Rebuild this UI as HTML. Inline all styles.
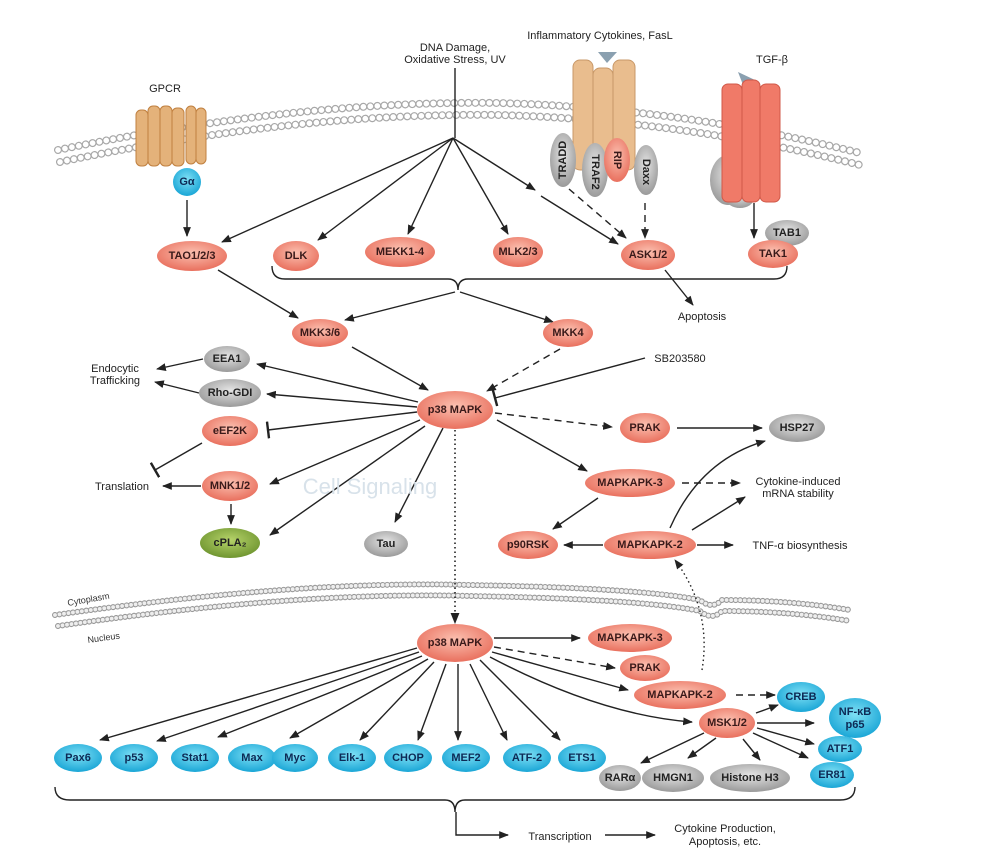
<!DOCTYPE html>
<html><head><meta charset="utf-8"><style>
html,body{margin:0;padding:0;background:#fff}
svg{display:block}
text{font-family:"Liberation Sans",sans-serif}
.n{font-size:11px;font-weight:bold;fill:#3a1a1a;text-anchor:middle;dominant-baseline:central}
.b{font-size:11px;font-weight:bold;fill:#0d2a55;text-anchor:middle;dominant-baseline:central}
.g{font-size:11px;font-weight:bold;fill:#222;text-anchor:middle;dominant-baseline:central}
.t{font-size:11px;fill:#222;text-anchor:middle}
.l{stroke:#222;stroke-width:1.4;fill:none}
.d{stroke:#222;stroke-width:1.4;fill:none;stroke-dasharray:7,5}
.m1{fill:none;stroke:#a8a8a8;stroke-width:8;stroke-linecap:round;stroke-dasharray:0.01,7}
.m2{fill:none;stroke:#fff;stroke-width:5.6;stroke-linecap:round;stroke-dasharray:0.01,7}
.n1{fill:none;stroke:#999;stroke-width:6;stroke-linecap:round;stroke-dasharray:0.01,4.5}
.n2{fill:none;stroke:#eee;stroke-width:3.8;stroke-linecap:round;stroke-dasharray:0.01,4.5}
</style></head><body>
<svg width="1000" height="858" viewBox="0 0 1000 858" xmlns="http://www.w3.org/2000/svg">
<defs>
<radialGradient id="r" cx="50%" cy="40%" r="60%"><stop offset="0" stop-color="#fbc0b0"/><stop offset="1" stop-color="#e9705e"/></radialGradient>
<radialGradient id="bl" cx="50%" cy="40%" r="60%"><stop offset="0" stop-color="#7fe0f5"/><stop offset="1" stop-color="#1aa6d6"/></radialGradient>
<radialGradient id="gr" cx="50%" cy="40%" r="60%"><stop offset="0" stop-color="#e4e4e4"/><stop offset="1" stop-color="#9a9a9a"/></radialGradient>
<radialGradient id="gn" cx="50%" cy="40%" r="60%"><stop offset="0" stop-color="#b6d36a"/><stop offset="1" stop-color="#6f9530"/></radialGradient>
<marker id="a" viewBox="0 0 10 10" refX="9" refY="5" markerWidth="7" markerHeight="7" orient="auto-start-reverse"><path d="M0,1 L10,5 L0,9 z" fill="#222"/></marker>
<marker id="tb" viewBox="0 0 4 14" refX="2" refY="7" markerWidth="4" markerHeight="12" orient="auto"><path d="M2,0 V14" stroke="#222" stroke-width="2"/></marker>
</defs>

<!-- plasma membrane -->
<path id="pm1" d="M58,150 Q300,100 500,103 Q680,108 860,153" class="m1"/>
<path d="M58,150 Q300,100 500,103 Q680,108 860,153" class="m2"/>
<path d="M60,162 Q300,112 500,115 Q680,120 860,165" class="m1"/>
<path d="M60,162 Q300,112 500,115 Q680,120 860,165" class="m2"/>
<!-- nuclear membrane -->
<path d="M55,615 Q300,580 470,585 Q640,588 700,600 Q712,610 722,600 Q790,600 850,610" class="n1"/>
<path d="M55,615 Q300,580 470,585 Q640,588 700,600 Q712,610 722,600 Q790,600 850,610" class="n2"/>
<path d="M58,626 Q300,591 470,596 Q640,599 700,611 Q712,621 722,611 Q790,611 850,621" class="n1"/>
<path d="M58,626 Q300,591 470,596 Q640,599 700,611 Q712,621 722,611 Q790,611 850,621" class="n2"/>
<text x="68" y="606" font-size="9" fill="#333" transform="rotate(-10 68 606)">Cytoplasm</text>
<text x="88" y="643" font-size="9" fill="#333" transform="rotate(-8 88 643)">Nucleus</text>

<!-- GPCR -->
<text x="165" y="92" class="t" font-size="12">GPCR</text>
<g fill="#e4b27a" stroke="#c08040" stroke-width="1">
<rect x="136" y="110" width="12" height="56" rx="5"/><rect x="148" y="106" width="12" height="60" rx="5"/>
<rect x="160" y="106" width="12" height="60" rx="5"/><rect x="172" y="108" width="12" height="58" rx="5"/>
<rect x="186" y="106" width="10" height="58" rx="5"/><rect x="196" y="108" width="10" height="56" rx="5"/>
</g>
<circle cx="187" cy="182" r="14" fill="url(#bl)"/>
<text x="187" y="182" class="b" font-size="9">Gα</text>

<!-- DNA damage -->
<text x="455" y="51" class="t">DNA Damage,</text>
<text x="455" y="63" class="t">Oxidative Stress, UV</text>
<line x1="455" y1="68" x2="455" y2="138" class="l"/>

<!-- Cytokine receptor -->
<text x="600" y="39" class="t">Inflammatory Cytokines, FasL</text>
<path d="M598,52 L617,52 L607,63 z" fill="#8aa0b0"/>
<g fill="#e9bd8e" stroke="#c89868" stroke-width="1">
<rect x="573" y="60" width="20" height="110" rx="7"/><rect x="593" y="68" width="20" height="102" rx="7"/><rect x="613" y="60" width="22" height="110" rx="7"/>
</g>
<ellipse cx="563" cy="160" rx="13" ry="27" fill="url(#gr)"/>
<ellipse cx="595" cy="170" rx="13" ry="27" fill="url(#gr)"/>
<ellipse cx="617" cy="160" rx="13" ry="22" fill="url(#r)"/>
<ellipse cx="646" cy="170" rx="12" ry="25" fill="url(#gr)"/>
<text class="g" font-size="9" transform="translate(563,160) rotate(-90)">TRADD</text>
<text class="g" font-size="9" transform="translate(595,172) rotate(90)">TRAF2</text>
<text class="n" font-size="9" transform="translate(617,160) rotate(90)">RIP</text>
<text class="g" font-size="9" transform="translate(646,172) rotate(90)">Daxx</text>

<!-- TGF-beta -->
<text x="772" y="63" class="t">TGF-β</text>
<path d="M738,72 L755,80 L745,90 z" fill="#8aa0b0"/>
<ellipse cx="728" cy="180" rx="18" ry="25" fill="url(#gr)"/>
<ellipse cx="740" cy="198" rx="14" ry="10" fill="url(#gr)"/>
<g fill="#f07a68" stroke="#d05848" stroke-width="1">
<rect x="722" y="84" width="20" height="118" rx="6"/><rect x="742" y="80" width="18" height="122" rx="6"/><rect x="760" y="84" width="20" height="118" rx="6"/>
</g>

<!-- connectors top -->
<line x1="187" y1="200" x2="187" y2="236" class="l" marker-end="url(#a)"/>
<line x1="453" y1="138" x2="222" y2="242" class="l" marker-end="url(#a)"/>
<line x1="453" y1="138" x2="318" y2="240" class="l" marker-end="url(#a)"/>
<line x1="453" y1="138" x2="408" y2="234" class="l" marker-end="url(#a)"/>
<line x1="453" y1="138" x2="508" y2="234" class="l" marker-end="url(#a)"/>
<line x1="453" y1="138" x2="535" y2="190" class="l" marker-end="url(#a)"/>
<line x1="541" y1="196" x2="618" y2="244" class="l" marker-end="url(#a)"/>
<line x1="569" y1="189" x2="626" y2="238" class="d" marker-end="url(#a)"/>
<line x1="645" y1="203" x2="645" y2="238" class="d" marker-end="url(#a)"/>
<line x1="754" y1="203" x2="754" y2="238" class="l" marker-end="url(#a)"/>
<line x1="665" y1="270" x2="693" y2="305" class="l" marker-end="url(#a)"/>
<text x="702" y="320" class="t">Apoptosis</text>
<path d="M272,266 Q272,279 285,279 L448,279 Q458,279 458,290 Q458,279 468,279 L774,279 Q787,279 787,266" class="l" stroke-width="1.8"/>
<line x1="218" y1="270" x2="298" y2="318" class="l" marker-end="url(#a)"/>
<line x1="455" y1="292" x2="345" y2="320" class="l" marker-end="url(#a)"/>
<line x1="460" y1="292" x2="553" y2="322" class="l" marker-end="url(#a)"/>

<!-- p38 cytoplasm connectors -->
<line x1="352" y1="347" x2="428" y2="390" class="l" marker-end="url(#a)"/>
<line x1="560" y1="349" x2="487" y2="391" class="d" marker-end="url(#a)"/>
<line x1="645" y1="358" x2="495" y2="398" class="l" marker-end="url(#tb)"/>
<text x="680" y="362" class="t">SB203580</text>
<line x1="418" y1="402" x2="257" y2="364" class="l" marker-end="url(#a)"/>
<line x1="417" y1="407" x2="267" y2="394" class="l" marker-end="url(#a)"/>
<line x1="417" y1="412" x2="268" y2="430" class="l" marker-end="url(#tb)"/>
<line x1="420" y1="420" x2="270" y2="484" class="l" marker-end="url(#a)"/>
<line x1="425" y1="426" x2="270" y2="535" class="l" marker-end="url(#a)"/>
<line x1="443" y1="428" x2="395" y2="522" class="l" marker-end="url(#a)"/>
<line x1="495" y1="413" x2="612" y2="427" class="d" marker-end="url(#a)"/>
<line x1="497" y1="420" x2="587" y2="471" class="l" marker-end="url(#a)"/>
<line x1="455" y1="430" x2="455" y2="623" stroke="#222" stroke-width="1.6" stroke-dasharray="1.5,3" marker-end="url(#a)"/>
<line x1="203" y1="359" x2="157" y2="369" class="l" marker-end="url(#a)"/>
<line x1="199" y1="393" x2="155" y2="382" class="l" marker-end="url(#a)"/>
<text x="115" y="372" class="t">Endocytic</text>
<text x="115" y="384" class="t">Trafficking</text>
<line x1="202" y1="443" x2="155" y2="470" class="l" marker-end="url(#tb)"/>
<line x1="201" y1="486" x2="163" y2="486" class="l" marker-end="url(#a)"/>
<text x="122" y="490" class="t">Translation</text>
<line x1="231" y1="504" x2="231" y2="524" class="l" marker-end="url(#a)"/>
<text x="370" y="494" font-family="Liberation Serif" font-size="22" fill="#d8e2ea" text-anchor="middle">Cell Signaling</text>

<line x1="677" y1="428" x2="762" y2="428" class="l" marker-end="url(#a)"/>
<line x1="682" y1="483" x2="740" y2="483" class="d" marker-end="url(#a)"/>
<text x="798" y="485" class="t">Cytokine-induced</text>
<text x="798" y="497" class="t">mRNA stability</text>
<line x1="598" y1="498" x2="553" y2="529" class="l" marker-end="url(#a)"/>
<line x1="603" y1="545" x2="564" y2="545" class="l" marker-end="url(#a)"/>
<line x1="697" y1="545" x2="733" y2="545" class="l" marker-end="url(#a)"/>
<text x="800" y="549" class="t">TNF-α biosynthesis</text>
<path d="M670,528 Q700,460 765,441" class="l" marker-end="url(#a)"/>
<line x1="692" y1="530" x2="745" y2="497" class="l" marker-end="url(#a)"/>
<path d="M702,670 Q712,610 675,560" stroke="#222" stroke-width="1.4" fill="none" stroke-dasharray="1.5,3" marker-end="url(#a)"/>

<!-- nucleus connectors -->
<line x1="494" y1="638" x2="580" y2="638" class="l" marker-end="url(#a)"/>
<line x1="494" y1="647" x2="615" y2="668" class="d" marker-end="url(#a)"/>
<line x1="492" y1="652" x2="628" y2="690" class="l" marker-end="url(#a)"/>
<path d="M490,657 Q600,715 692,722" class="l" marker-end="url(#a)"/>
<line x1="417" y1="648" x2="100" y2="740" class="l" marker-end="url(#a)"/>
<line x1="419" y1="652" x2="157" y2="741" class="l" marker-end="url(#a)"/>
<line x1="422" y1="656" x2="218" y2="737" class="l" marker-end="url(#a)"/>
<line x1="428" y1="659" x2="290" y2="738" class="l" marker-end="url(#a)"/>
<line x1="434" y1="662" x2="360" y2="740" class="l" marker-end="url(#a)"/>
<line x1="446" y1="664" x2="418" y2="740" class="l" marker-end="url(#a)"/>
<line x1="458" y1="664" x2="458" y2="740" class="l" marker-end="url(#a)"/>
<line x1="470" y1="664" x2="507" y2="740" class="l" marker-end="url(#a)"/>
<line x1="480" y1="660" x2="560" y2="740" class="l" marker-end="url(#a)"/>
<line x1="736" y1="695" x2="775" y2="695" class="d" marker-end="url(#a)"/>
<line x1="756" y1="713" x2="778" y2="705" class="l" marker-end="url(#a)"/>
<line x1="757" y1="723" x2="814" y2="723" class="l" marker-end="url(#a)"/>
<line x1="757" y1="728" x2="814" y2="744" class="l" marker-end="url(#a)"/>
<line x1="753" y1="733" x2="808" y2="758" class="l" marker-end="url(#a)"/>
<line x1="704" y1="733" x2="641" y2="763" class="l" marker-end="url(#a)"/>
<line x1="716" y1="738" x2="688" y2="758" class="l" marker-end="url(#a)"/>
<line x1="743" y1="739" x2="760" y2="760" class="l" marker-end="url(#a)"/>
<path d="M55,787 Q55,800 70,800 L445,800 Q455,800 455,812 Q455,800 465,800 L840,800 Q855,800 855,787" class="l" stroke-width="1.6"/>
<path d="M456,812 L456,835 L508,835" class="l" marker-end="url(#a)"/>
<text x="560" y="840" class="t">Transcription</text>
<line x1="605" y1="835" x2="655" y2="835" class="l" marker-end="url(#a)"/>
<text x="725" y="832" class="t">Cytokine Production,</text>
<text x="725" y="845" class="t">Apoptosis, etc.</text>

<!-- nodes -->
<g>
<ellipse cx="192" cy="256" rx="35" ry="15" fill="url(#r)"/><text x="192" y="256" class="n">TAO1/2/3</text>
<ellipse cx="296" cy="256" rx="23" ry="15" fill="url(#r)"/><text x="296" y="256" class="n">DLK</text>
<ellipse cx="400" cy="252" rx="35" ry="15" fill="url(#r)"/><text x="400" y="252" class="n">MEKK1-4</text>
<ellipse cx="518" cy="252" rx="25" ry="15" fill="url(#r)"/><text x="518" y="252" class="n">MLK2/3</text>
<ellipse cx="648" cy="255" rx="27" ry="15" fill="url(#r)"/><text x="648" y="255" class="n">ASK1/2</text>
<ellipse cx="787" cy="233" rx="22" ry="13" fill="url(#gr)"/><text x="787" y="233" class="g">TAB1</text>
<ellipse cx="773" cy="254" rx="25" ry="14" fill="url(#r)"/><text x="773" y="254" class="n">TAK1</text>
<ellipse cx="320" cy="333" rx="28" ry="14" fill="url(#r)"/><text x="320" y="333" class="n">MKK3/6</text>
<ellipse cx="568" cy="333" rx="25" ry="14" fill="url(#r)"/><text x="568" y="333" class="n">MKK4</text>
<ellipse cx="455" cy="410" rx="38" ry="19" fill="url(#r)"/><text x="455" y="410" class="n" font-size="12">p38 MAPK</text>
<ellipse cx="227" cy="359" rx="23" ry="13" fill="url(#gr)"/><text x="227" y="359" class="g">EEA1</text>
<ellipse cx="230" cy="393" rx="31" ry="14" fill="url(#gr)"/><text x="230" y="393" class="g">Rho-GDI</text>
<ellipse cx="230" cy="431" rx="28" ry="15" fill="url(#r)"/><text x="230" y="431" class="n">eEF2K</text>
<ellipse cx="230" cy="486" rx="28" ry="15" fill="url(#r)"/><text x="230" y="486" class="n">MNK1/2</text>
<ellipse cx="230" cy="543" rx="30" ry="15" fill="url(#gn)"/><text x="230" y="543" class="g" font-size="12">cPLA₂</text>
<ellipse cx="386" cy="544" rx="22" ry="13" fill="url(#gr)"/><text x="386" y="544" class="g">Tau</text>
<ellipse cx="645" cy="428" rx="25" ry="15" fill="url(#r)"/><text x="645" y="428" class="n">PRAK</text>
<ellipse cx="797" cy="428" rx="28" ry="14" fill="url(#gr)"/><text x="797" y="428" class="g">HSP27</text>
<ellipse cx="630" cy="483" rx="45" ry="14" fill="url(#r)"/><text x="630" y="483" class="n">MAPKAPK-3</text>
<ellipse cx="528" cy="545" rx="30" ry="14" fill="url(#r)"/><text x="528" y="545" class="n">p90RSK</text>
<ellipse cx="650" cy="545" rx="46" ry="14" fill="url(#r)"/><text x="650" y="545" class="n">MAPKAPK-2</text>

<ellipse cx="455" cy="643" rx="38" ry="19" fill="url(#r)"/><text x="455" y="643" class="n" font-size="12">p38 MAPK</text>
<ellipse cx="630" cy="638" rx="42" ry="14" fill="url(#r)"/><text x="630" y="638" class="n">MAPKAPK-3</text>
<ellipse cx="645" cy="668" rx="25" ry="13" fill="url(#r)"/><text x="645" y="668" class="n">PRAK</text>
<ellipse cx="680" cy="695" rx="46" ry="14" fill="url(#r)"/><text x="680" y="695" class="n">MAPKAPK-2</text>
<ellipse cx="801" cy="697" rx="24" ry="15" fill="url(#bl)"/><text x="801" y="697" class="b">CREB</text>
<ellipse cx="727" cy="723" rx="28" ry="15" fill="url(#r)"/><text x="727" y="723" class="n">MSK1/2</text>
<ellipse cx="855" cy="718" rx="26" ry="20" fill="url(#bl)"/><text x="855" y="712" class="b">NF-κB</text><text x="855" y="725" class="b">p65</text>
<ellipse cx="840" cy="749" rx="22" ry="13" fill="url(#bl)"/><text x="840" y="749" class="b">ATF1</text>
<ellipse cx="832" cy="775" rx="22" ry="13" fill="url(#bl)"/><text x="832" y="775" class="b">ER81</text>
<ellipse cx="620" cy="778" rx="21" ry="13" fill="url(#gr)"/><text x="620" y="778" class="g">RARα</text>
<ellipse cx="673" cy="778" rx="31" ry="14" fill="url(#gr)"/><text x="673" y="778" class="g">HMGN1</text>
<ellipse cx="750" cy="778" rx="40" ry="14" fill="url(#gr)"/><text x="750" y="778" class="g">Histone H3</text>

<ellipse cx="78" cy="758" rx="24" ry="14" fill="url(#bl)"/><text x="78" y="758" class="b">Pax6</text>
<ellipse cx="134" cy="758" rx="24" ry="14" fill="url(#bl)"/><text x="134" y="758" class="b">p53</text>
<ellipse cx="195" cy="758" rx="24" ry="14" fill="url(#bl)"/><text x="195" y="758" class="b">Stat1</text>
<ellipse cx="252" cy="758" rx="24" ry="14" fill="url(#bl)"/><text x="252" y="758" class="b">Max</text>
<ellipse cx="295" cy="758" rx="23" ry="14" fill="url(#bl)"/><text x="295" y="758" class="b">Myc</text>
<ellipse cx="352" cy="758" rx="24" ry="14" fill="url(#bl)"/><text x="352" y="758" class="b">Elk-1</text>
<ellipse cx="408" cy="758" rx="24" ry="14" fill="url(#bl)"/><text x="408" y="758" class="b">CHOP</text>
<ellipse cx="466" cy="758" rx="24" ry="14" fill="url(#bl)"/><text x="466" y="758" class="b">MEF2</text>
<ellipse cx="527" cy="758" rx="24" ry="14" fill="url(#bl)"/><text x="527" y="758" class="b">ATF-2</text>
<ellipse cx="582" cy="758" rx="24" ry="14" fill="url(#bl)"/><text x="582" y="758" class="b">ETS1</text>
</g>
</svg>
</body></html>
